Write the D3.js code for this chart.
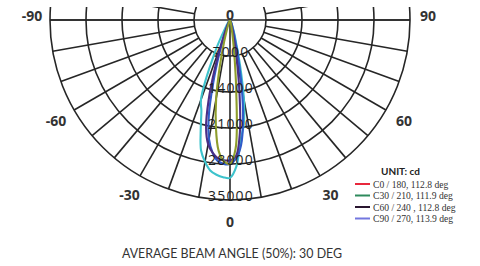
<!DOCTYPE html>
<html><head><meta charset="utf-8">
<script src="https://cdn.jsdelivr.net/npm/d3@7"></script>
<style>html,body{margin:0;padding:0;background:#fff;}svg{display:block;}</style>
</head><body>
<svg id="chart" width="480" height="266"></svg>
<script>
// ---- data ----
const angles = [-90,-60,-40,-30,-25,-20,-17.5,-15,-12.5,-10,-7.5,-5,-2.5,0,2.5,5,7.5,10,12.5,15,17.5,20,25,30,40,60,90];
const cyanSeries   = [0,50,400,2000,7000,16500,18500,22000,26000,28000,29500,30200,30600,30700,28500,23500,20500,15500,9000,4500,2800,1500,700,400,150,50,0];
const blueSeries   = [0,50,100,300,1200,3500,7000,12500,19000,23500,26000,27500,28000,28000,27000,24500,19500,13000,7000,3500,2000,1200,600,300,100,30,0];
const purpleSeries = [0,50,150,500,1500,5000,9500,16000,21500,24500,26000,27000,27300,27300,26500,22000,14000,7000,3000,1500,900,600,300,200,80,30,0];
const oliveSeries  = [0,20,60,150,400,1000,2000,4500,9000,15500,21000,25500,27500,28000,25000,14000,6000,2500,1200,600,350,200,100,60,30,10,0];
const seriesColors = ["#3ec3cc","#2f5bc9","#4a2f86","#8e9d2c"];
const radialTicks = [7000,14000,21000,28000,35000];
const angleTicks = [-90,-60,-30,0,30,60,90];
const gridAngles = d3.range(-100,101,10);
const legendLabels = ["C0 / 180, 112.8 deg","C30 / 210, 111.9 deg","C60 / 240 , 112.8 deg","C90 / 270, 113.9 deg"];
const legendColors = ["#e8283c","#2e8a5c","#2a1630","#7377df"];
const unitLabel = "UNIT: cd";
const titleText = "AVERAGE BEAM ANGLE (50%): 30 DEG";

// ---- layout ----
const svg = d3.select("#chart");
const cx = 230, cy = 20;
const r = d3.scaleLinear().domain([0,35000]).range([0,180]);
const toRad = d => (180 - d) * Math.PI / 180; // d3 radial angle, 0 deg = nadir
const pos = (deg, rad) => [cx + rad*Math.sin(deg*Math.PI/180), cy + rad*Math.cos(deg*Math.PI/180)];

svg.append("defs").append("clipPath").attr("id","clip")
  .append("rect").attr("x",0).attr("y",7).attr("width",480).attr("height",259);

const g = svg.append("g").attr("clip-path","url(#clip)");
const gridColor = "#262626";

// circles
g.selectAll("circle.ring").data(radialTicks).join("circle")
  .attr("cx",cx).attr("cy",cy).attr("r",d=>r(d))
  .attr("fill","none").attr("stroke",gridColor).attr("stroke-width",1.6);

// radial lines
g.selectAll("line.spoke").data(gridAngles).join("line")
  .attr("x1",d=>pos(d, d===0?0:r(7000))[0]).attr("y1",d=>pos(d, d===0?0:r(7000))[1])
  .attr("x2",d=>pos(d,r(35000))[0]).attr("y2",d=>pos(d,r(35000))[1])
  .attr("stroke",gridColor).attr("stroke-width",1.6);

// horizontal line
g.append("line").attr("x1",cx-r(35000)).attr("x2",cx+r(35000)).attr("y1",cy).attr("y2",cy)
  .attr("stroke",gridColor).attr("stroke-width",1.6);

// curves
const allSeries = [cyanSeries, blueSeries, purpleSeries, oliveSeries];
const radial = d3.lineRadial().angle(d=>toRad(d[0])).radius(d=>r(d[1])).curve(d3.curveCatmullRom);
const curveG = svg.append("g").attr("transform",`translate(${cx},${cy})`);
allSeries.forEach((s,i)=>{
  curveG.append("path").datum(angles.map((a,j)=>[a,s[j]]))
    .attr("d",radial).attr("fill","none").attr("stroke",seriesColors[i])
    .attr("stroke-width",2.1).attr("stroke-linejoin","round");
});

// radial tick labels
svg.selectAll("text.rt").data(radialTicks).join("text")
  .attr("x",cx+1).attr("y",d=>cy+r(d)-5)
  .attr("text-anchor","middle").attr("dominant-baseline","central")
  .attr("font-family","'Open Sans', sans-serif").attr("font-size",14)
  .attr("letter-spacing",1.2).attr("fill","#1e1e1e").text(d=>d);

// angle labels
const lab = svg.append("g").attr("font-family","'Open Sans', sans-serif").attr("font-weight","bold")
  .attr("font-size",14).attr("fill","#333").attr("text-anchor","middle").attr("dominant-baseline","central");
angleTicks.forEach(a=>{
  let p;
  if (Math.abs(a)===90) p = [cx + Math.sign(a)*198, cy-5];
  else p = pos(a, 201);
  lab.append("text").attr("x",p[0]).attr("y",p[1]).text(a);
});
lab.append("text").attr("x",cx).attr("y",cy-6).text(0);

// legend
const leg = svg.append("g");
leg.append("text").attr("x",381).attr("y",171).attr("dominant-baseline","central")
  .attr("font-family","Lato, sans-serif").attr("font-weight","bold").attr("font-size",10)
  .attr("fill","#222").text(unitLabel);
legendLabels.forEach((t,i)=>{
  const y = 184 + i*11.5;
  leg.append("line").attr("x1",355).attr("x2",370).attr("y1",y).attr("y2",y)
    .attr("stroke",legendColors[i]).attr("stroke-width",2);
  leg.append("text").attr("x",373).attr("y",y).attr("dominant-baseline","central")
    .attr("font-family","'Liberation Serif', serif").attr("font-size",9.6).attr("fill","#333").text(t);
});

// title
svg.append("text").attr("x",232).attr("y",253).attr("text-anchor","middle").attr("dominant-baseline","central")
  .attr("font-family","Lato, sans-serif").attr("font-size",12.4).attr("fill","#333").text(titleText);
</script>
</body></html>
